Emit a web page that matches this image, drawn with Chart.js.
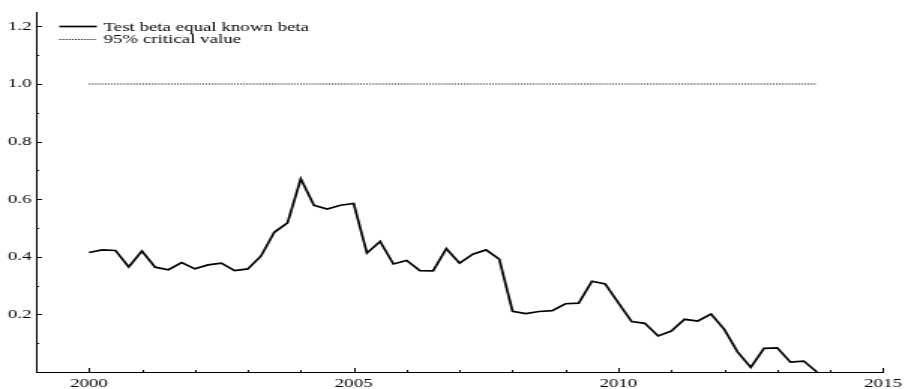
<!DOCTYPE html>
<html>
<head>
<meta charset="utf-8">
<script src="https://cdn.jsdelivr.net/npm/chart.js@4/dist/chart.umd.min.js"></script>
<style>
html,body{margin:0;padding:0;background:#fff;}
#c{display:block;width:908px;height:389px;}
</style>
</head>
<body>
<canvas id="c" width="605" height="389" style="width:908px;height:389px;"></canvas>
<script>
// Quarterly dates 2000Q1 .. 2013Q4
const quarters = [
  2000.00,2000.25,2000.50,2000.75,
  2001.00,2001.25,2001.50,2001.75,
  2002.00,2002.25,2002.50,2002.75,
  2003.00,2003.25,2003.50,2003.75,
  2004.00,2004.25,2004.50,2004.75,
  2005.00,2005.25,2005.50,2005.75,
  2006.00,2006.25,2006.50,2006.75,
  2007.00,2007.25,2007.50,2007.75,
  2008.00,2008.25,2008.50,2008.75,
  2009.00,2009.25,2009.50,2009.75,
  2010.00,2010.25,2010.50,2010.75,
  2011.00,2011.25,2011.50,2011.75,
  2012.00,2012.25,2012.50,2012.75,
  2013.00,2013.25,2013.50,2013.75
];
const testStat = [
  0.415,0.424,0.422,0.365,
  0.420,0.364,0.355,0.380,
  0.358,0.372,0.378,0.352,
  0.358,0.403,0.485,0.518,
  0.671,0.579,0.566,0.579,
  0.585,0.413,0.453,0.375,
  0.387,0.352,0.351,0.428,
  0.378,0.409,0.424,0.392,
  0.211,0.203,0.210,0.213,
  0.237,0.239,0.315,0.306,
  0.240,0.175,0.169,0.125,
  0.142,0.183,0.177,0.201,
  0.148,0.070,0.016,0.082,
  0.084,0.034,0.038,0.000
];
const criticalX = [2000.0, 2013.75];
const criticalY = [1.0, 1.0];
const seriesNames = ["Test beta equal known beta", "95% critical value"];
const xTickLabels = [2000, 2005, 2010, 2015];
const yTickLabels = [0.2, 0.4, 0.6, 0.8, 1.0, 1.2];
const xMinorTicks = [2000,2001,2002,2003,2004,2005,2006,2007,2008,2009,2010,2011,2012,2013,2014,2015];
const yMinorTicks = [0.1,0.2,0.3,0.4,0.5,0.6,0.7,0.8,0.9,1.0,1.1,1.2];

const FONT = {family: "'Liberation Serif','Times New Roman',serif", size: 12.6};

const tickPlugin = {
  id: 'innerTicks',
  afterDraw(chart) {
    const ctx = chart.ctx;
    const xs = chart.scales.x, ys = chart.scales.y;
    const area = chart.chartArea;
    ctx.save();
    ctx.strokeStyle = '#000';
    ctx.lineWidth = 1;
    ctx.beginPath();
    xMinorTicks.forEach(v => {
      const px = Math.round(xs.getPixelForValue(v)) + 0.5;
      const len = xTickLabels.includes(v) ? 4 : 2;
      ctx.moveTo(px, area.bottom);
      ctx.lineTo(px, area.bottom - len);
    });
    yMinorTicks.forEach(v => {
      const py = Math.round(ys.getPixelForValue(v)) + 0.5;
      const major = yTickLabels.some(t => Math.abs(t - v) < 1e-9);
      const len = major ? 4 : 2;
      ctx.moveTo(area.left, py);
      ctx.lineTo(area.left + len, py);
    });
    ctx.stroke();

    // legend
    const metas = chart.data.datasets;
    const rows = [26.5, 39.5];
    ctx.font = FONT.size + 'px ' + FONT.family;
    ctx.fillStyle = '#000';
    ctx.textBaseline = 'middle';
    ctx.textAlign = 'left';
    metas.forEach((ds, i) => {
      ctx.beginPath();
      ctx.lineWidth = ds.borderWidth;
      ctx.setLineDash(ds.borderDash || []);
      ctx.moveTo(39.5, rows[i]);
      ctx.lineTo(64.5, rows[i]);
      ctx.stroke();
      ctx.setLineDash([]);
      ctx.fillText(ds.label, 69, rows[i] + (i === 0 ? 1 : 0));
    });
    ctx.restore();
  }
};

new Chart(document.getElementById('c'), {
  type: 'line',
  data: {
    datasets: [
      {
        label: seriesNames[0],
        data: quarters.map((q, i) => ({x: q, y: testStat[i]})),
        borderColor: '#000',
        borderWidth: 1.7,
        pointRadius: 0,
        tension: 0,
        fill: false
      },
      {
        label: seriesNames[1],
        data: criticalX.map((q, i) => ({x: q, y: criticalY[i]})),
        borderColor: '#000',
        borderWidth: 1.2,
        borderDash: [1, 1.1],
        pointRadius: 0,
        tension: 0,
        fill: false
      }
    ]
  },
  options: {
    responsive: false,
    animation: false,
    devicePixelRatio: 1,
    layout: {padding: {top: 12, right: 13, left: 0, bottom: 0}},
    plugins: {legend: {display: false}, tooltip: {enabled: false}},
    scales: {
      x: {
        type: 'linear',
        min: 1999,
        max: 2015,
        afterBuildTicks: s => { s.ticks = xTickLabels.map(v => ({value: v})); },
        afterFit: s => { s.height = 17; },
        grid: {display: false, drawTicks: false},
        border: {display: true, color: '#000', width: 1},
        ticks: {color: '#000', font: FONT, padding: 4, maxRotation: 0, callback: v => String(v)}
      },
      y: {
        type: 'linear',
        min: 0,
        max: 1.25,
        afterBuildTicks: s => { s.ticks = yTickLabels.map(v => ({value: v})); },
        afterFit: s => { s.width = 24; },
        grid: {display: false, drawTicks: false},
        border: {display: true, color: '#000', width: 1},
        ticks: {color: '#000', font: FONT, padding: 3, callback: v => Number(v).toFixed(1)}
      }
    }
  },
  plugins: [tickPlugin]
});
</script>
</body>
</html>
